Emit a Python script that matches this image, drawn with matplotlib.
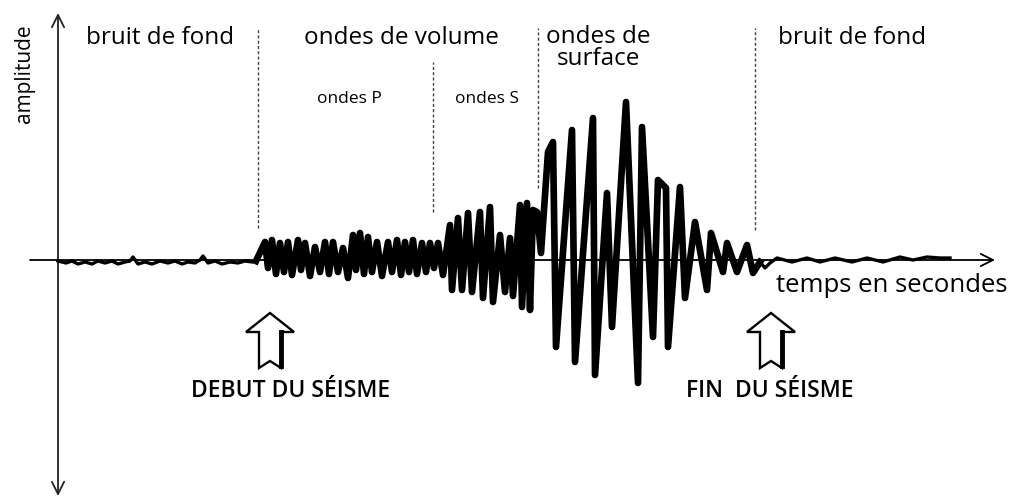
import matplotlib
matplotlib.use("Agg")
import matplotlib.pyplot as plt
from matplotlib.patches import Polygon

plt.rcParams['font.family'] = ['Open Sans', 'DejaVu Sans']

# ---- data: seismogram trace (time units, amplitude units) ----
time = [58, 66, 72, 78, 85, 92, 98, 105, 112, 118, 125, 130, 133, 138, 145, 152, 160, 168,
        175, 182, 188, 195, 200, 203, 208, 215, 222, 230, 238, 245, 252, 256,
        265, 268, 272, 276, 280, 284, 288, 292, 298, 301, 305, 310, 315, 320, 325, 329,
        333, 338, 343, 348, 353, 356, 360, 364, 368, 372, 377, 382, 388, 392, 397, 401,
        405, 409, 413, 417, 422, 426, 430, 434, 438,
        443, 450, 452, 458, 462, 468, 472, 480, 483, 490, 493, 500, 505, 510, 513, 520,
        522, 527, 530, 533, 537, 541,
        548, 553, 556, 572, 575, 593, 595, 607, 612, 626, 638, 642, 653, 658, 666, 668,
        680, 685, 695, 707, 711, 723, 727, 737, 747, 753, 760, 765,
        770, 777, 792, 807, 820, 835, 852, 867, 883, 900, 913, 927, 940, 950]
amplitude = [-1, -3, -1, -4, -2, -4, -1, -3, -1, -4, -2, -1, 3, -4, -2, -4, -1, -3,
             -1, -4, -2, -3, 0, 4, -3, -1, -4, -2, -3, -1, -2, -1,
             18, -8, 20, -14, 17, -12, 18, -15, 20, -10, 17, -16, 13, -12, 18, -14,
             18, -12, 12, -18, 25, -10, 27, -14, 23, -12, 18, -16, 18, -12, 20, -15,
             18, -12, 20, -14, 17, -12, 17, -8, 17,
             -15, 35, -30, 42, -30, 47, -32, 48, -38, 53, -42, 25, -32, 22, -36, 55,
             -47, 57, -50, 50, 48, 7,
             108, 118, -87, 130, -102, 142, -115, 67, -67, 158, -123, 133, -77, 80, 72, -87,
             73, -38, 38, -30, 27, -12, 17, -12, 15, -13, -2, -8,
             -3, 2, -2, 2, -2, 2, -2, 2, -2, 3, 0, 3, 2, 2]

# index ranges: quiet noise before / seismic event / quiet noise after
quiet_before_end = 31
quiet_after_start = 121

# phase boundaries (time) and their vertical extent (amplitude)
boundary_time = [258, 433, 538, 755]
boundary_top = [232, 198, 232, 232]
boundary_bottom = [32, 48, 72, 30]

# labels
phase_labels = ["bruit de fond", "ondes de volume", "ondes de\nsurface", "bruit de fond"]
phase_label_time = [160, 401, 598, 852]
sub_labels = ["ondes P", "ondes S"]
sub_label_time = [349, 487]
event_labels = ["DEBUT DU SÉISME", "FIN  DU SÉISME"]
event_label_time = [291, 770]
event_time = [270, 771]

fig = plt.figure(figsize=(10.22, 4.98), dpi=100)
ax = fig.add_axes([0, 0, 1, 1])
ax.set_xlim(0, 1022)
ax.set_ylim(-238, 260)
ax.axis('off')

# axes arrows
ax.annotate('', xy=(995, 0), xytext=(30, 0),
            arrowprops=dict(arrowstyle='->', lw=1.3, color='black', mutation_scale=22,
                            shrinkA=0, shrinkB=0))
ax.annotate('', xy=(58, 247), xytext=(58, -236),
            arrowprops=dict(arrowstyle='<->', lw=1.3, color='#222222', mutation_scale=22,
                            shrinkA=0, shrinkB=0))

# dashed phase boundaries
for t, top, bot in zip(boundary_time, boundary_top, boundary_bottom):
    ax.plot([t, t], [bot, top], color='#444444', lw=1.0, ls=(0, (2.2, 1.6)))

# trace
ax.plot(time[:quiet_before_end + 1], amplitude[:quiet_before_end + 1],
        color='black', lw=2.4, zorder=3)
ax.plot(time[quiet_before_end:quiet_after_start + 1],
        amplitude[quiet_before_end:quiet_after_start + 1],
        color='black', lw=4.8, solid_joinstyle='round', zorder=3)
ax.plot(time[quiet_after_start:], amplitude[quiet_after_start:],
        color='black', lw=2.4, zorder=3)

# texts
ax.text(24, 186, "amplitude", rotation=90, ha='center', va='center', fontsize=15,
        fontweight='medium')
for lab, t in zip(phase_labels, phase_label_time):
    y = 222 if "\n" not in lab else 212
    ax.text(t, y, lab, ha='center', va='center', fontsize=17.5, linespacing=0.9,
            fontweight='medium')
for lab, t in zip(sub_labels, sub_label_time):
    ax.text(t, 161, lab, ha='center', va='center', fontsize=12.5, fontweight='medium')
ax.text(892, -25, "temps en secondes", ha='center', va='center', fontsize=18.5,
        fontweight='medium')

# hollow arrows and event labels
for t in event_time:
    hw, sw = 24, 11
    tip, headbase, bottom, notch = -53, -72, -108, -101
    pts = [(t, tip), (t + hw, headbase), (t + sw, headbase), (t + sw, bottom),
           (t, notch), (t - sw, bottom), (t - sw, headbase), (t - hw, headbase)]
    ax.add_patch(Polygon(pts, closed=True, facecolor='white', edgecolor='black', lw=1.7,
                         joinstyle='miter', zorder=4))
    ax.plot([t + sw, t + sw], [headbase, bottom + 2], color='black', lw=3.5, zorder=5)
for lab, t in zip(event_labels, event_label_time):
    ax.text(t, -131, lab, ha='center', va='center', fontsize=16.5, fontweight='semibold')

fig.savefig("out.png", dpi=100)
